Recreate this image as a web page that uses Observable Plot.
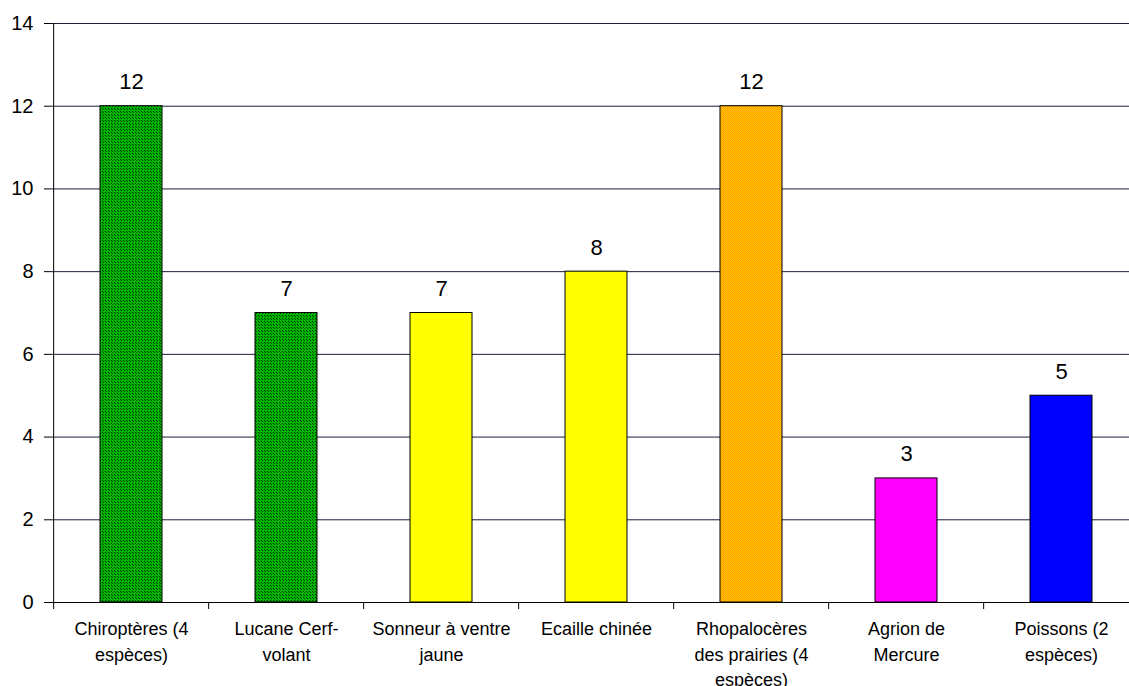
<!DOCTYPE html>
<html>
<head>
<meta charset="utf-8">
<script src="https://cdn.jsdelivr.net/npm/d3@7"></script>
<script src="https://cdn.jsdelivr.net/npm/@observablehq/plot@0.6"></script>
<style>
  html, body { margin: 0; padding: 0; background: #fff; overflow: hidden; }
  #chart svg { display: block; font-family: "Liberation Sans", Arial, sans-serif; }
</style>
</head>
<body>
<div id="chart"></div>
<script>
const categories = [
  "Chiroptères (4\nespèces)",
  "Lucane Cerf-\nvolant",
  "Sonneur à ventre\njaune",
  "Ecaille chinée",
  "Rhopalocères\ndes prairies (4\nespèces)",
  "Agrion de\nMercure",
  "Poissons (2\nespèces)"
];
const values = [12, 7, 7, 8, 12, 3, 5];
const yTicks = [0, 2, 4, 6, 8, 10, 12, 14];

const data = categories.map((c, i) => ({category: c, value: values[i]}));

const W = 1129, H = 686;
const xRange = [51, 1141];
const halfStep = (xRange[1] - xRange[0]) / categories.length / 2;

const chart = Plot.plot({
  width: W,
  height: H,
  marginTop: 23,
  marginBottom: 84,
  marginLeft: 51,
  marginRight: 0,
  style: {fontFamily: "'Liberation Sans', Arial, sans-serif", color: "#000", background: "#fff"},
  x: {domain: categories, range: xRange, paddingInner: 0.6, paddingOuter: 0.3, align: 0.5},
  y: {domain: [0, 14], ticks: yTicks},
  color: {
    type: "ordinal",
    domain: categories,
    range: ["url(#patGreen)", "url(#patGreen)", "#ffff00", "#ffff00", "url(#patOrange)", "#ff00ff", "#0000ff"]
  },
  marks: [
    Plot.gridY(yTicks, {stroke: "#1c1c3c", strokeOpacity: 1, strokeWidth: 1}),
    Plot.barY(data, {x: "category", y: "value", fill: "category", stroke: "#000", strokeWidth: 1}),
    Plot.text(data, {x: "category", y: "value", text: d => String(d.value), dy: -24, fontSize: 22, fill: "#000"}),
    Plot.axisY({ticks: yTicks, tickSize: 7, tickPadding: 11, fontSize: 20, label: null, stroke: "#000"}),
    Plot.ruleX([categories[0]], {x: d => d, dx: -halfStep, y1: 0, y2: 14, stroke: "#000"}),
    Plot.ruleY([0], {stroke: "#000"}),
    Plot.axisX({tickSize: 7, text: null, dx: -halfStep, label: null, stroke: "#000"}),
    Plot.axisX({tickSize: 0, tickPadding: 15, fontSize: 18, lineHeight: 1.4, label: null, lineAnchor: "top"})
  ]
});

// pattern fills
const ns = "http://www.w3.org/2000/svg";
const defs = document.createElementNS(ns, "defs");
defs.innerHTML = `
  <pattern id="patGreen" width="3" height="3" patternUnits="userSpaceOnUse">
    <rect width="3" height="3" fill="#00b400"/>
    <rect x="0" y="0" width="1" height="1" fill="#003300"/>
    <rect x="1" y="1" width="1" height="1" fill="#004400"/>
  </pattern>
  <pattern id="patOrange" width="2" height="2" patternUnits="userSpaceOnUse">
    <rect width="2" height="2" fill="#ffcc00"/>
    <rect x="0" y="0" width="1" height="1" fill="#ff9900"/>
    <rect x="1" y="1" width="1" height="1" fill="#ff9900"/>
  </pattern>`;
chart.insertBefore(defs, chart.firstChild);

document.getElementById("chart").appendChild(chart);
</script>
</body>
</html>
